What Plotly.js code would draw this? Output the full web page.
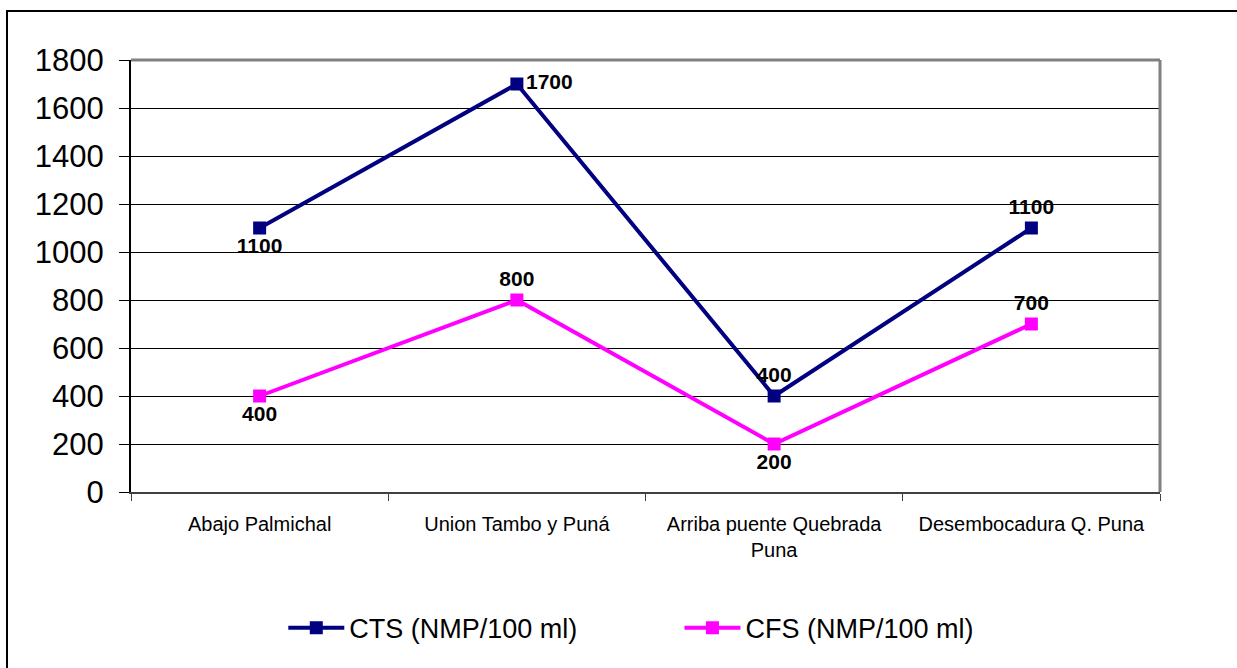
<!DOCTYPE html>
<html>
<head>
<meta charset="utf-8">
<script src="https://cdn.plot.ly/plotly-3.0.1.min.js"></script>
<style>html,body{margin:0;padding:0;background:#fff;}</style>
</head>
<body>
<div id="chart" style="width:1237px;height:668px;"></div>
<script>
const categories = ["Abajo Palmichal", "Union Tambo y Puná", "Arriba puente Quebrada<br>Puna", "Desembocadura Q. Puna"];
const ctsValues = [1100, 1700, 400, 1100];
const cfsValues = [400, 800, 200, 700];
const ctsName = "CTS (NMP/100 ml)";
const cfsName = "CFS (NMP/100 ml)";
const yTicks = [0, 200, 400, 600, 800, 1000, 1200, 1400, 1600, 1800];

const FONT = '"Liberation Sans", Arial, sans-serif';

const traces = [
  {
    x: categories, y: ctsValues, name: ctsName, type: 'scatter', mode: 'lines+markers+text',
    line: {color: '#000080', width: 4},
    marker: {symbol: 'square', size: 13, color: '#000080'},
    text: ctsValues.map(String),
    texttemplate: '<b>%{text}</b>',
    textposition: ['bottom center', 'middle right', 'top center', 'top center'],
    textfont: {family: FONT, size: 21, color: '#000'},
    legend: 'legend', cliponaxis: false
  },
  {
    x: categories, y: cfsValues, name: cfsName, type: 'scatter', mode: 'lines+markers+text',
    line: {color: '#FF00FF', width: 4},
    marker: {symbol: 'square', size: 13, color: '#FF00FF'},
    text: cfsValues.map(String),
    texttemplate: '<b>%{text}</b>',
    textposition: ['bottom center', 'top center', 'bottom center', 'top center'],
    textfont: {family: FONT, size: 21, color: '#000'},
    legend: 'legend2', cliponaxis: false
  }
];

const layout = {
  width: 1237, height: 668,
  margin: {l: 131, r: 77, t: 60, b: 176},
  paper_bgcolor: '#fff', plot_bgcolor: '#fff',
  font: {family: FONT, color: '#000'},
  showlegend: true,
  xaxis: {
    type: 'category', range: [-0.5, 3.5], autorange: false,
    showline: true, linecolor: '#404040', linewidth: 2,
    ticks: 'outside', tickson: 'boundaries', ticklen: 7, tickcolor: '#404040', tickwidth: 1,
    tickfont: {family: FONT, size: 20, color: '#000'},
    showgrid: false, zeroline: false,
    ticklabelstandoff: 13
  },
  yaxis: {
    range: [0, 1800], autorange: false, tickvals: yTicks,
    showline: true, linecolor: '#000', linewidth: 2,
    ticks: 'outside', ticklen: 10, tickcolor: '#000', tickwidth: 1,
    tickfont: {family: FONT, size: 31, color: '#000'},
    showgrid: true, gridcolor: '#000', gridwidth: 1,
    zeroline: false,
    ticklabelstandoff: 9
  },
  legend: {
    orientation: 'h', x: 0.148, xanchor: 'left', y: -0.315, yanchor: 'middle',
    font: {family: FONT, size: 27, color: '#000'}, itemwidth: 56, bgcolor: 'rgba(0,0,0,0)'
  },
  legend2: {
    orientation: 'h', x: 0.533, xanchor: 'left', y: -0.315, yanchor: 'middle',
    font: {family: FONT, size: 27, color: '#000'}, itemwidth: 56, bgcolor: 'rgba(0,0,0,0)'
  },
  shapes: [
    {type: 'line', xref: 'paper', yref: 'paper', x0: 0, x1: 1, y0: 1, y1: 1, line: {color: '#808080', width: 3}},
    {type: 'line', xref: 'paper', yref: 'paper', x0: 1, x1: 1, y0: 0, y1: 1, line: {color: '#808080', width: 3}},
    {type: 'rect', xref: 'paper', yref: 'paper', x0: -0.1205, x1: 1.2, y0: -0.6, y1: 1.1134, line: {color: '#000', width: 2}}
  ]
};

Plotly.newPlot('chart', traces, layout, {displayModeBar: false, staticPlot: true});
</script>
</body>
</html>
